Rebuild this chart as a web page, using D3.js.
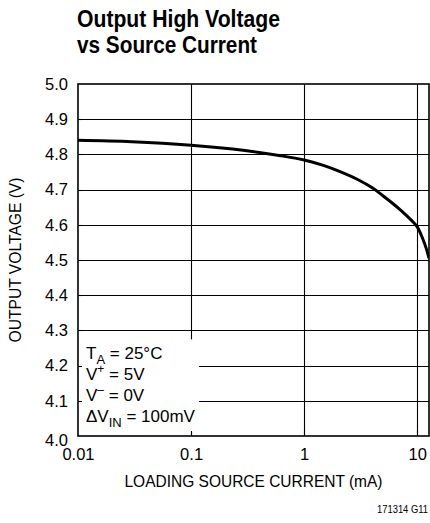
<!DOCTYPE html>
<html>
<head>
<meta charset="utf-8">
<script src="https://cdn.jsdelivr.net/npm/d3@7"></script>
<style>
  html, body { margin: 0; padding: 0; background: #fff; }
  svg { display: block; font-family: "Liberation Sans", Arial, Helvetica, sans-serif; }
</style>
</head>
<body>
<svg id="chart" width="430" height="523"></svg>
<script>
// Data
const currentMA = [0.01, 0.03, 0.1, 0.3, 0.6, 1, 1.5, 2, 3, 4, 5, 6, 7, 8, 9, 10, 11, 12, 12.7];
const outputV   = [4.840, 4.836, 4.826, 4.811, 4.797, 4.784, 4.768, 4.753, 4.728, 4.705, 4.682, 4.662, 4.644, 4.627, 4.611, 4.594, 4.566, 4.533, 4.505];
const xTicks = [0.01, 0.1, 1, 10];
const xTickLabels = ["0.01", "0.1", "1", "10"];
const yTicks = [4.0, 4.1, 4.2, 4.3, 4.4, 4.5, 4.6, 4.7, 4.8, 4.9, 5.0];
const titleLines = ["Output High Voltage", "vs Source Current"];
const xTitle = "LOADING SOURCE CURRENT (mA)";
const yTitle = "OUTPUT VOLTAGE (V)";
const figId = "171314 G11";

const svg = d3.select("#chart");
const L = 78, R = 429, T = 84, B = 436;

const x = d3.scaleLog().domain([0.01, 12.7]).range([L, R]);
const y = d3.scaleLinear().domain([4.0, 5.0]).range([B, T]);

// Title
svg.append("text").attr("x", 77).attr("y", 27)
  .attr("font-size", 23.5).attr("font-weight", "bold")
  .attr("textLength", 203).attr("lengthAdjust", "spacingAndGlyphs")
  .text(titleLines[0]);
svg.append("text").attr("x", 77).attr("y", 53)
  .attr("font-size", 23.5).attr("font-weight", "bold")
  .attr("textLength", 180).attr("lengthAdjust", "spacingAndGlyphs")
  .text(titleLines[1]);

// Grid
const grid = svg.append("g").attr("stroke", "#000").attr("stroke-width", 1.1);
grid.selectAll("line.h").data(yTicks.slice(1, -1)).join("line")
  .attr("x1", L).attr("x2", R)
  .attr("y1", d => Math.round(y(d)) + 0.5).attr("y2", d => Math.round(y(d)) + 0.5);
grid.selectAll("line.v").data(xTicks.slice(1)).join("line")
  .attr("y1", T).attr("y2", B)
  .attr("x1", d => Math.round(x(d)) + 0.5).attr("x2", d => Math.round(x(d)) + 0.5);

// Curve
const clip = svg.append("clipPath").attr("id", "clip");
clip.append("rect").attr("x", L).attr("y", T).attr("width", R - L).attr("height", B - T);
const line = d3.line().x(d => x(d[0])).y(d => y(d[1])).curve(d3.curveCatmullRom.alpha(0.5));
svg.append("path")
  .datum(currentMA.map((c, i) => [c, outputV[i]]))
  .attr("clip-path", "url(#clip)")
  .attr("fill", "none").attr("stroke", "#000").attr("stroke-width", 3)
  .attr("stroke-linejoin", "round")
  .attr("d", line);

// Annotation box (covers grid)
svg.append("rect").attr("x", L + 3).attr("y", y(4.3) + 9)
  .attr("width", x(0.1) - L + 5).attr("height", B - 4 - (y(4.3) + 9))
  .attr("fill", "#fff");

// Frame
svg.append("rect").attr("x", L).attr("y", T).attr("width", R - L).attr("height", B - T)
  .attr("fill", "none").attr("stroke", "#000").attr("stroke-width", 1.6);

// Axes labels
const yAxis = d3.axisLeft(y).tickValues(yTicks).tickFormat(d3.format(".1f")).tickSize(0).tickPadding(10);
const ya = svg.append("g").attr("transform", `translate(${L},0)`).call(yAxis);
ya.select(".domain").remove();
ya.selectAll("text").attr("font-size", 16.5).attr("font-family", "Liberation Sans, Arial, sans-serif").attr("fill", "#000");
ya.selectAll(".tick").filter(d => d === 4.0).select("text").attr("dy", "0.55em");
// small tick stubs
svg.append("g").selectAll("line").data(yTicks.slice(1, -1)).join("line")
  .attr("x1", L).attr("x2", L + 4)
  .attr("y1", d => Math.round(y(d)) + 0.5).attr("y2", d => Math.round(y(d)) + 0.5)
  .attr("stroke", "#000").attr("stroke-width", 1.1);
svg.append("g").selectAll("line").data(xTicks.slice(1)).join("line")
  .attr("x1", d => Math.round(x(d)) + 0.5).attr("x2", d => Math.round(x(d)) + 0.5)
  .attr("y1", B - 5).attr("y2", B)
  .attr("stroke", "#000").attr("stroke-width", 1.1);

const xAxis = d3.axisBottom(x).tickValues(xTicks).tickFormat((d, i) => xTickLabels[i]).tickSize(0).tickPadding(12);
const xa = svg.append("g").attr("transform", `translate(0,${B})`).call(xAxis);
xa.select(".domain").remove();
xa.selectAll("text").attr("font-size", 16.5).attr("font-family", "Liberation Sans, Arial, sans-serif").attr("fill", "#000");

// Axis titles
svg.append("text").attr("x", (L + R) / 2).attr("y", 487)
  .attr("text-anchor", "middle").attr("font-size", 16.5)
  .attr("textLength", 258).attr("lengthAdjust", "spacingAndGlyphs")
  .text(xTitle);
svg.append("text").attr("transform", `translate(21,${(T + B) / 2}) rotate(-90)`)
  .attr("text-anchor", "middle").attr("font-size", 16.5)
  .attr("textLength", 165).attr("lengthAdjust", "spacingAndGlyphs")
  .text(yTitle);

// Annotation text
const ann = svg.append("g").attr("font-size", 17).attr("fill", "#000");
const t1 = ann.append("text").attr("x", 86).attr("y", 359);
t1.append("tspan").text("T");
t1.append("tspan").attr("font-size", 13).attr("dy", 5).text("A");
t1.append("tspan").attr("dy", -5).text(" = 25°C");
const t2 = ann.append("text").attr("x", 86).attr("y", 380);
t2.append("tspan").text("V");
t2.append("tspan").attr("font-size", 12).attr("dy", -7).text("+");
t2.append("tspan").attr("dy", 7).text(" = 5V");
const t3 = ann.append("text").attr("x", 86).attr("y", 401);
t3.append("tspan").text("V");
t3.append("tspan").attr("font-size", 12).attr("dy", -7).text("\u2013");
t3.append("tspan").attr("dy", 7).text(" = 0V");
const t4 = ann.append("text").attr("x", 86).attr("y", 422);
t4.append("tspan").text("\u0394V");
t4.append("tspan").attr("font-size", 13).attr("dy", 5).text("IN");
t4.append("tspan").attr("dy", -5).text(" = 100mV");

// Figure id
svg.append("text").attr("x", 428).attr("y", 513).attr("text-anchor", "end")
  .attr("font-size", 10).attr("textLength", 51).attr("lengthAdjust", "spacingAndGlyphs")
  .text(figId);
</script>
</body>
</html>
